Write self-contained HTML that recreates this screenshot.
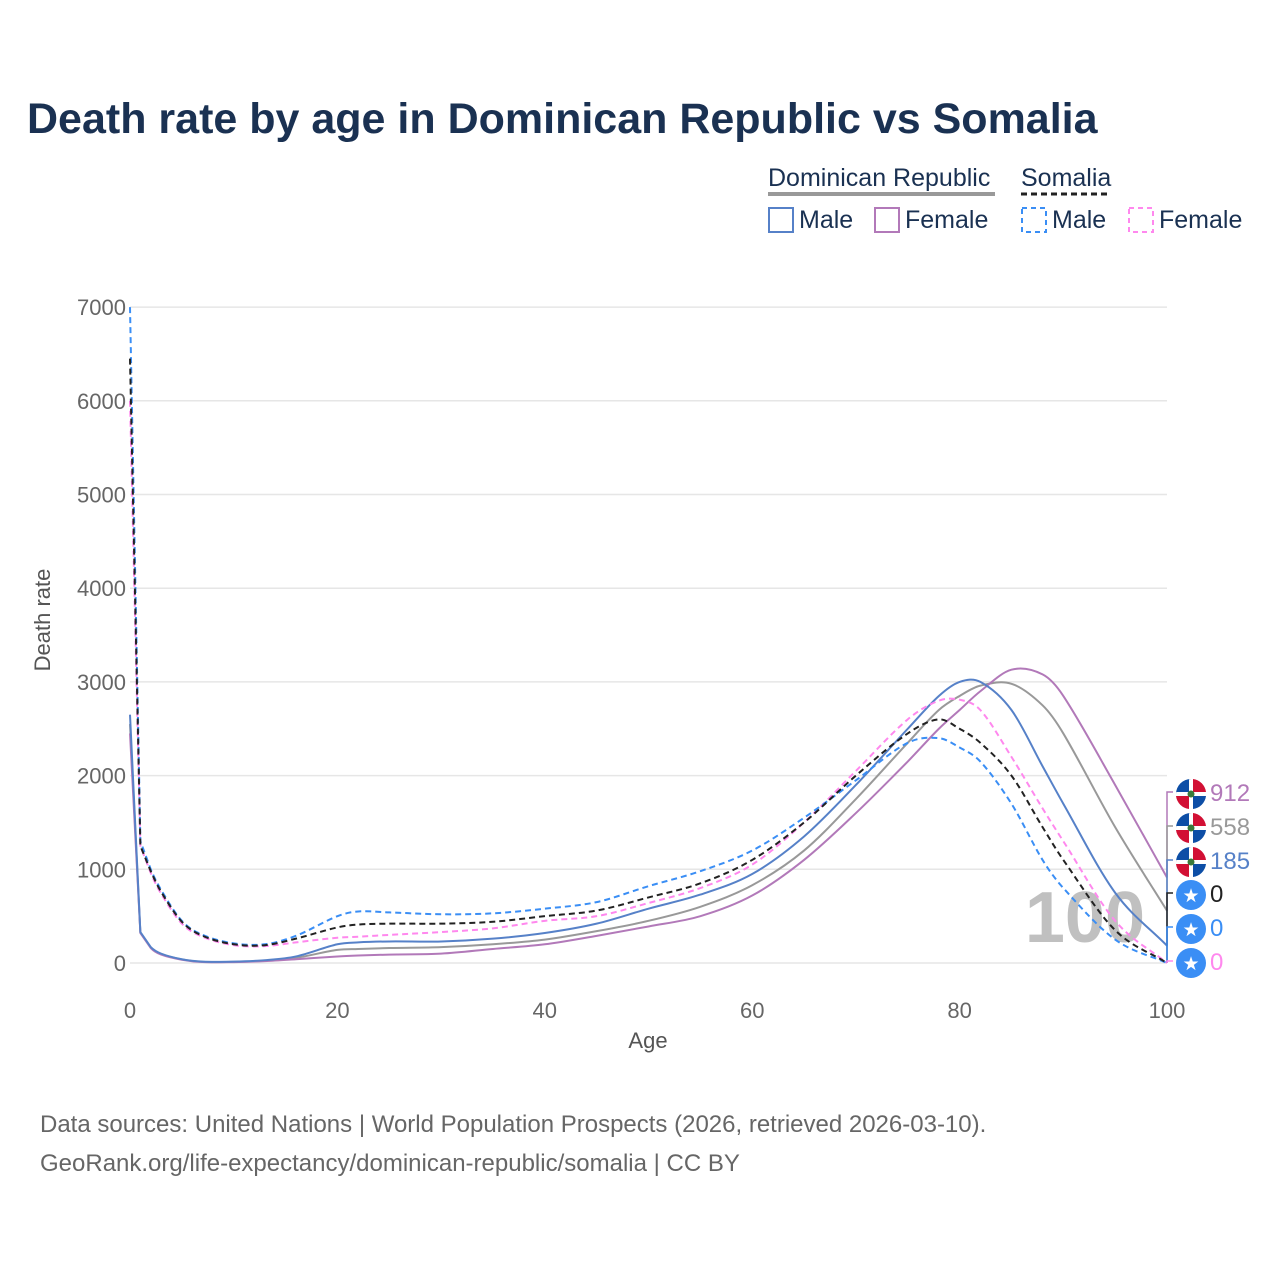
<!DOCTYPE html>
<html><head><meta charset="utf-8"><style>
body{margin:0;background:#fff;font-family:"Liberation Sans",sans-serif;}
svg text{font-family:"Liberation Sans",sans-serif;}
</style></head><body>
<svg id="chart" width="1280" height="1280" viewBox="0 0 1280 1280" xmlns="http://www.w3.org/2000/svg">
<rect width="1280" height="1280" fill="#fff"/>
<text x="27" y="133" font-size="43" font-weight="bold" fill="#1a3152">Death rate by age in Dominican Republic vs Somalia</text>
<g>
<text x="768" y="186" font-size="25" fill="#1a3152">Dominican Republic</text>
<line x1="768" y1="194" x2="995" y2="194" stroke="#999" stroke-width="4"/>
<text x="1021" y="186" font-size="25" fill="#1a3152">Somalia</text>
<line x1="1021" y1="194" x2="1110" y2="194" stroke="#222" stroke-width="3" stroke-dasharray="6,4"/>
<g><rect x="769" y="208" width="24" height="24" fill="none" stroke="#5681c8" stroke-width="2"/><text x="799" y="228" font-size="25" fill="#1a3152">Male</text></g>
<g><rect x="875" y="208" width="24" height="24" fill="none" stroke="#b279b9" stroke-width="2"/><text x="905" y="228" font-size="25" fill="#1a3152">Female</text></g>
<g><rect x="1022" y="208" width="24" height="24" fill="none" stroke="#3a8ef5" stroke-width="2" stroke-dasharray="5,4"/><text x="1052" y="228" font-size="25" fill="#1a3152">Male</text></g>
<g><rect x="1129" y="208" width="24" height="24" fill="none" stroke="#ff88ee" stroke-width="2" stroke-dasharray="5,4"/><text x="1159" y="228" font-size="25" fill="#1a3152">Female</text></g>
</g>
<g id="grid"></g>
<text x="1145" y="942" font-size="72" font-weight="bold" fill="#c0c0c0" text-anchor="end">100</text>
<g id="series"></g>
<g id="labels"></g>
<text x="50" y="620" font-size="22" fill="#555" text-anchor="middle" transform="rotate(-90 50 620)">Death rate</text>
<text x="648" y="1048" font-size="22" fill="#555" text-anchor="middle">Age</text>
<text x="40" y="1132" font-size="24" fill="#666">Data sources: United Nations | World Population Prospects (2026, retrieved 2026-03-10).</text>
<text x="40" y="1171" font-size="24" fill="#666">GeoRank.org/life-expectancy/dominican-republic/somalia | CC BY</text>
</svg>
<script>
const ages=[0,1,2,3,5,7,10,13,16,20,22,25,30,35,40,45,50,55,60,65,70,75,78,80,82,85,88,90,95,100];
const drMale=[2650,330,170,100,40,15,15,30,70,200,220,230,230,260,320,420,580,730,950,1350,1900,2500,2850,3000,3000,2700,2100,1700,750,185];
const drFemale=[2450,320,160,90,35,10,10,20,40,70,80,90,100,150,200,290,390,500,720,1100,1600,2150,2500,2700,2900,3130,3080,2850,1900,912];
const drTotal=[2550,325,165,95,38,12,12,25,55,140,150,160,170,200,250,340,450,600,830,1200,1750,2350,2700,2850,2960,2980,2750,2450,1450,558];
const soMale=[7000,1300,1000,780,450,300,210,200,290,500,550,540,520,530,580,650,820,980,1200,1550,1950,2350,2400,2300,2150,1700,1100,800,250,0];
const soTotal=[6450,1250,980,760,440,290,200,190,260,380,410,420,420,440,500,560,700,850,1100,1500,2000,2450,2600,2500,2350,2000,1450,1100,350,0];
const soFemale=[6000,1250,960,740,420,280,190,180,220,270,280,300,330,370,450,500,640,800,1050,1500,2050,2600,2800,2810,2700,2200,1650,1300,450,0];
const yTicks=[0,1000,2000,3000,4000,5000,6000,7000];
const xTicks=[0,20,40,60,80,100];
const X=a=>130+a*10.37, Y=v=>963-v*0.0937;
const NS="http://www.w3.org/2000/svg";
function mk(t,at,p){const e=document.createElementNS(NS,t);for(const k in at)e.setAttribute(k,at[k]);p.appendChild(e);return e;}
const grid=document.getElementById('grid');
yTicks.forEach(v=>{const l=mk('line',{x1:130,x2:1167,y1:Y(v),y2:Y(v),stroke:'#e6e6e6','stroke-width':1.5},grid);


const t=mk('text',{x:126,y:Y(v)+8,'font-size':22,fill:'#666','text-anchor':'end'},grid);t.textContent=v;

});
xTicks.forEach(a=>{const t=mk('text',{x:X(a),y:1018,'font-size':22,fill:'#666','text-anchor':'middle'},grid);t.textContent=a;

});
function path(vals){const p=ages.map((a,i)=>[X(a),Y(vals[i])]);const n=p.length;
const m=p.map((q,i)=>{if(i==0||i==n-1||i<2)return i==n-1?(p[i][1]-p[i-1][1])/(p[i][0]-p[i-1][0]):(p[i+1][1]-p[i][1])/(p[i+1][0]-p[i][0]);
return (p[i+1][1]-p[i-1][1])/(p[i+1][0]-p[i-1][0]);});
let d='M'+p[0][0]+','+p[0][1];
for(let i=0;i<n-1;i++){const p1=p[i],p2=p[i+1];if(i<2){d+=` L${p2[0]},${p2[1]}`;continue;}
const dx=(p2[0]-p1[0])/3;d+=` C${p1[0]+dx},${p1[1]+m[i]*dx} ${p2[0]-dx},${p2[1]-m[i+1]*dx} ${p2[0]},${p2[1]}`;}return d;}
const sg=document.getElementById('series');
const defs=[[drTotal,'#999',null,'series-dr-total'],[drFemale,'#b279b9',null,'series-dr-female'],[drMale,'#5681c8',null,'series-dr-male'],[soFemale,'#ff88ee','6,4','series-so-female'],[soMale,'#3a8ef5','6,4','series-so-male'],[soTotal,'#222','6,4','series-so-total']];
defs.forEach(d=>{const e=mk('path',{d:path(d[0]),fill:'none',stroke:d[1],'stroke-width':2},sg);if(d[2])e.setAttribute('stroke-dasharray',d[2]);

});
const lg=document.getElementById('labels');
const labs=[[drFemale,'#b279b9',792,'dr'],[drTotal,'#999',826,'dr'],[drMale,'#5681c8',860,'dr'],[soTotal,'#222',893,'so'],[soMale,'#3a8ef5',927,'so'],[soFemale,'#ff88ee',961,'so']];
labs.forEach(l=>{const v=l[0][l[0].length-1];const g=mk('g',{},lg);


mk('path',{d:`M1167,${Y(v)} L1167,${l[2]} L1173,${l[2]}`,stroke:l[1],fill:'none','stroke-width':1.5},g);
const cx=1191,cy=l[2]+2;
if(l[3]=='dr'){mk('circle',{cx,cy,r:15,fill:'#fff'},g);
mk('path',{d:`M${cx-15},${cy} A15,15 0 0 1 ${cx},${cy-15} L${cx-2},${cy-15} L${cx-2},${cy-2} L${cx-15},${cy-2}Z`,fill:'#0d4ea6'},g);
mk('path',{d:`M${cx+2},${cy-15} A15,15 0 0 1 ${cx+15},${cy-2} L${cx+2},${cy-2}Z`,fill:'#d21034'},g);
mk('path',{d:`M${cx-15},${cy+2} L${cx-2},${cy+2} L${cx-2},${cy+15} A15,15 0 0 1 ${cx-15},${cy+2}Z`,fill:'#d21034'},g);
mk('path',{d:`M${cx+2},${cy+2} L${cx+15},${cy+2} A15,15 0 0 1 ${cx+2},${cy+15}Z`,fill:'#0d4ea6'},g);
mk('circle',{cx,cy,r:3.5,fill:'#3a7a3a'},g);}
else{mk('circle',{cx,cy,r:15,fill:'#3a8ef5'},g);const s=mk('text',{x:cx,y:cy+7,'font-size':19,fill:'#fff','text-anchor':'middle'},g);s.textContent='★';}
const t=mk('text',{x:1210,y:l[2]+9,'font-size':24,fill:l[1]},g);t.textContent=v;});
</script>
</body></html>
